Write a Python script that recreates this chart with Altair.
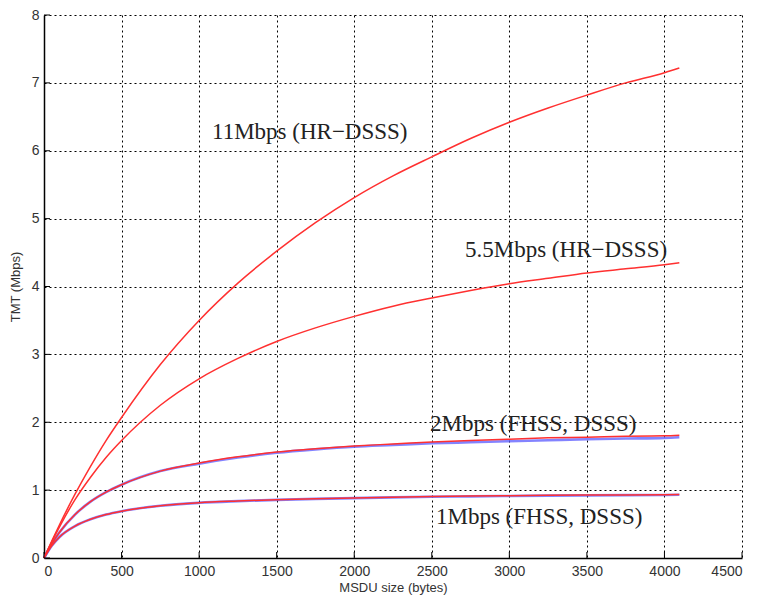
import altair as alt
import pandas as pd

# MSDU size (bytes) sample points
msdu = [0, 50, 100, 200, 300, 400, 500, 750, 1000, 1250, 1500, 1750, 2000, 2250, 2500,
        2750, 3000, 3250, 3500, 3750, 4000, 4096]

# TMT (Mbps)
tmt_11_red = [0, 0.25, 0.49, 0.94, 1.35, 1.73, 2.07, 2.85, 3.50, 4.05, 4.52, 4.94, 5.31, 5.63, 5.91,
              6.18, 6.42, 6.63, 6.82, 7.00, 7.15, 7.22]
tmt_55_red = [0, 0.24, 0.46, 0.86, 1.19, 1.48, 1.73, 2.25, 2.64, 2.94, 3.19, 3.39, 3.56, 3.71, 3.83,
              3.94, 4.04, 4.12, 4.20, 4.26, 4.32, 4.35]
tmt_2_red = [0, 0.21, 0.38, 0.64, 0.83, 0.97, 1.08, 1.28, 1.40, 1.49, 1.56, 1.61, 1.65, 1.68, 1.71,
             1.73, 1.75, 1.77, 1.78, 1.795, 1.80, 1.81]
tmt_2_blue = [0, 0.21, 0.38, 0.64, 0.83, 0.97, 1.08, 1.28, 1.39, 1.48, 1.55, 1.60, 1.64, 1.665, 1.69,
              1.705, 1.72, 1.735, 1.75, 1.76, 1.77, 1.78]
tmt_1_red = [0, 0.18, 0.31, 0.47, 0.57, 0.64, 0.69, 0.77, 0.815, 0.84, 0.86, 0.874, 0.885, 0.896, 0.905,
             0.912, 0.918, 0.923, 0.927, 0.930, 0.933, 0.935]
tmt_1_blue = [0, 0.18, 0.31, 0.47, 0.57, 0.64, 0.69, 0.77, 0.813, 0.838, 0.857, 0.871, 0.882, 0.893, 0.902,
              0.908, 0.914, 0.919, 0.923, 0.926, 0.929, 0.931]

x_ticks = [0, 500, 1000, 1500, 2000, 2500, 3000, 3500, 4000, 4500]
y_ticks = [0, 1, 2, 3, 4, 5, 6, 7, 8]

label_text = ["11Mbps (HR\u2212DSSS)", "5.5Mbps (HR\u2212DSSS)", "2Mbps (FHSS, DSSS)", "1Mbps (FHSS, DSSS)"]
label_x = [1083, 2714, 2489, 2527]
label_y = [6.27, 4.54, 1.98, 0.60]

rows = []
for name, vals, grp in [("11 red", tmt_11_red, "red"), ("5.5 red", tmt_55_red, "red"),
                        ("2 red", tmt_2_red, "red"), ("2 blue", tmt_2_blue, "blue"),
                        ("1 red", tmt_1_red, "red"), ("1 blue", tmt_1_blue, "blue")]:
    for xv, yv in zip(msdu, vals):
        rows.append({"series": name, "grp": grp, "x": xv, "y": yv})
df = pd.DataFrame(rows)
labels = pd.DataFrame({"text": label_text, "x": label_x, "y": label_y})
xt = pd.DataFrame({"v": x_ticks})
yt = pd.DataFrame({"v": y_ticks})

xscale = alt.Scale(domain=[0, 4500], nice=False)
yscale = alt.Scale(domain=[0, 8], nice=False)

xaxis = alt.Axis(values=x_ticks, format="d", title="MSDU size (bytes)", grid=True, ticks=False,
                 labelPadding=6, titlePadding=3)
yaxis = alt.Axis(values=y_ticks, format="d", title="TMT (Mbps)", grid=True, ticks=False,
                 labelPadding=5, titlePadding=9)

base = alt.Chart(df)
blue = base.transform_filter(alt.datum.grp == "blue").mark_line(
    color="#5a5aff", strokeWidth=2.6, opacity=0.75, interpolate="monotone"
).encode(
    x=alt.X("x:Q", scale=xscale, axis=xaxis),
    y=alt.Y("y:Q", scale=yscale, axis=yaxis),
    detail="series:N",
)
red = base.transform_filter(alt.datum.grp == "red").mark_line(
    color="#ff3030", strokeWidth=1.5, interpolate="monotone"
).encode(
    x=alt.X("x:Q", scale=xscale),
    y=alt.Y("y:Q", scale=yscale),
    detail="series:N",
)

xticks = alt.Chart(xt).mark_rule(color="black", strokeWidth=1).encode(
    x=alt.X("v:Q", scale=xscale), y=alt.value(543), y2=alt.value(537)
)
yticks = alt.Chart(yt).mark_rule(color="black", strokeWidth=1).encode(
    y=alt.Y("v:Q", scale=yscale), x=alt.value(0), x2=alt.value(6)
)

text = alt.Chart(labels).mark_text(
    font="Liberation Serif", fontSize=23, align="left", baseline="middle", color="#222222"
).encode(
    x=alt.X("x:Q", scale=xscale), y=alt.Y("y:Q", scale=yscale), text="text:N"
)

chart = alt.layer(blue, red, xticks, yticks, text).properties(
    width=698, height=543,
    autosize=alt.AutoSizeParams(type="none"),
    padding={"left": 36, "top": 7, "right": 10, "bottom": 40},
).configure_view(stroke=None).configure_axis(
    gridColor="black", gridDash=[2, 3], gridOpacity=1, gridWidth=1,
    domainColor="black", domainWidth=1.5,
    labelFont="Liberation Sans", labelFontSize=14, labelColor="#333333",
    titleFont="Liberation Sans", titleFontSize=13, titleFontWeight="normal", titleColor="#333333",
)

chart.save("out.html", embed_options={"renderer": "svg", "actions": False})
